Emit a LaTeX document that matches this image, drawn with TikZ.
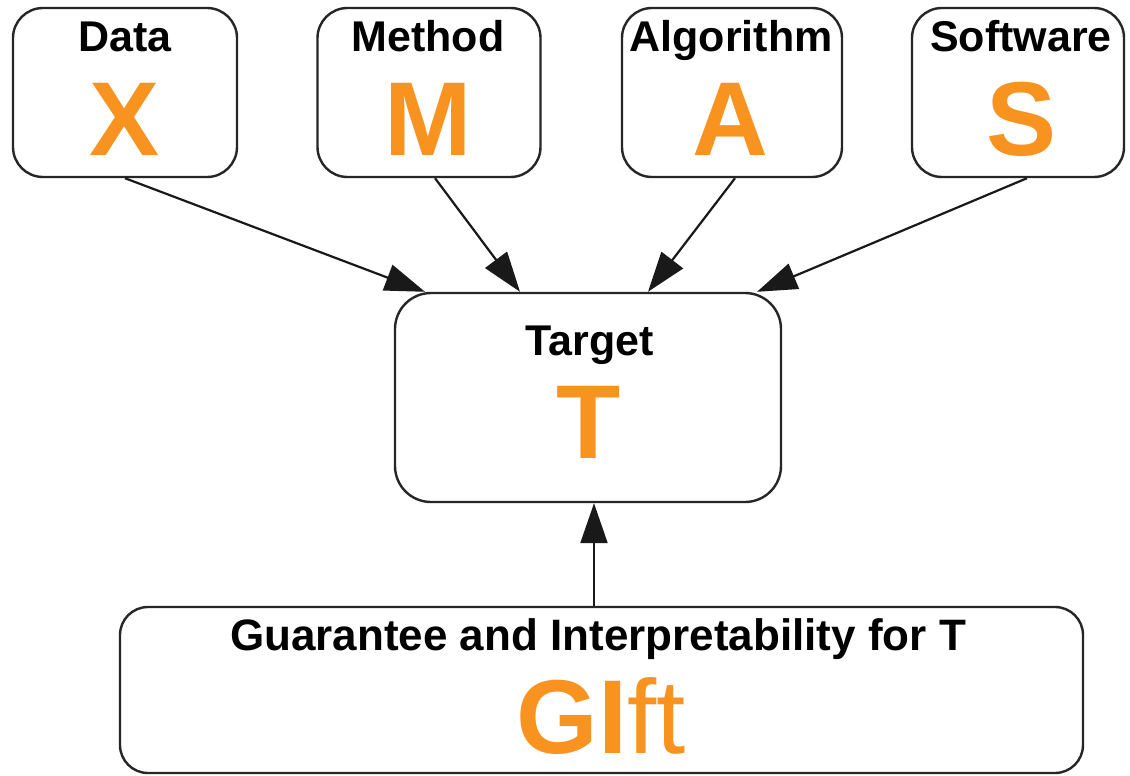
\documentclass[tikz,border=0pt]{standalone}
\usepackage{fontspec}
\setmainfont{Liberation Sans}
\usetikzlibrary{arrows.meta}
\definecolor{accent}{RGB}{247,147,30}
\begin{document}
\begin{tikzpicture}[x=1pt,y=-1pt,
  box/.style={draw=black!85,line width=2.4pt,rounded corners=30pt,inner sep=0pt,minimum height=169pt},
  lbl/.style={inner sep=0pt,anchor=base,font=\fontsize{43}{50}\selectfont\bfseries,text=black},
  big/.style={inner sep=0pt,anchor=base,font=\fontsize{105}{120}\selectfont\bfseries,text=accent},
  conn/.style={line width=2.2pt,draw=black!90,-{Triangle[length=40pt,width=27pt]}}]
\useasboundingbox (0,0) rectangle (1130,776);
\fill[white] (0,0) rectangle (1130,776);
% boxes
\node[box,minimum width=224pt] (data) at (125,92.5) {};
\node[box,minimum width=223pt] (method) at (429,92.5) {};
\node[box,minimum width=220pt] (algo) at (732,92.5) {};
\node[box,minimum width=212pt] (soft) at (1018,92.5) {};
\node[box,minimum width=386pt,minimum height=209pt,rounded corners=36pt] (target) at (588,397.5) {};
\node[box,minimum width=963pt,minimum height=166pt,rounded corners=28pt] (gbox) at (601.5,690) {};
% texts
\node[lbl] (dataL) at (125,52) {Data};
\node[big] (dataX) at (125,155) {X};
\node[lbl] (methodL) at (428,52) {Method};
\node[big] (methodM) at (428,155) {M};
\node[lbl] (algoL) at (731,52) {Algorithm};
\node[big] (algoA) at (730,155) {A};
\node[lbl] (softL) at (1021,52) {Software};
\node[big] (softS) at (1022,155) {S};
\node[lbl] (targetL) at (590,355) {Target};
\node[big] (targetT) at (589,458) {T};
\node[lbl,font=\fontsize{44}{50}\selectfont\bfseries] (gL) at (598,650) {Guarantee and Interpretability for T};
\node[big] (gG) at (601,753) {GI{\mdseries ft}};
% connectors
\draw[conn] (data.south) -- ([xshift=-163pt]target.north);
\draw[conn] ([xshift=6pt]method.south) -- ([xshift=-68pt]target.north);
\draw[conn] ([xshift=3pt]algo.south) -- ([xshift=60pt]target.north);
\draw[conn] ([xshift=9pt]soft.south) -- ([xshift=169pt]target.north);
\draw[conn] ([xshift=-7.5pt]gbox.north) -- ([xshift=6pt]target.south);
\end{tikzpicture}
\end{document}
